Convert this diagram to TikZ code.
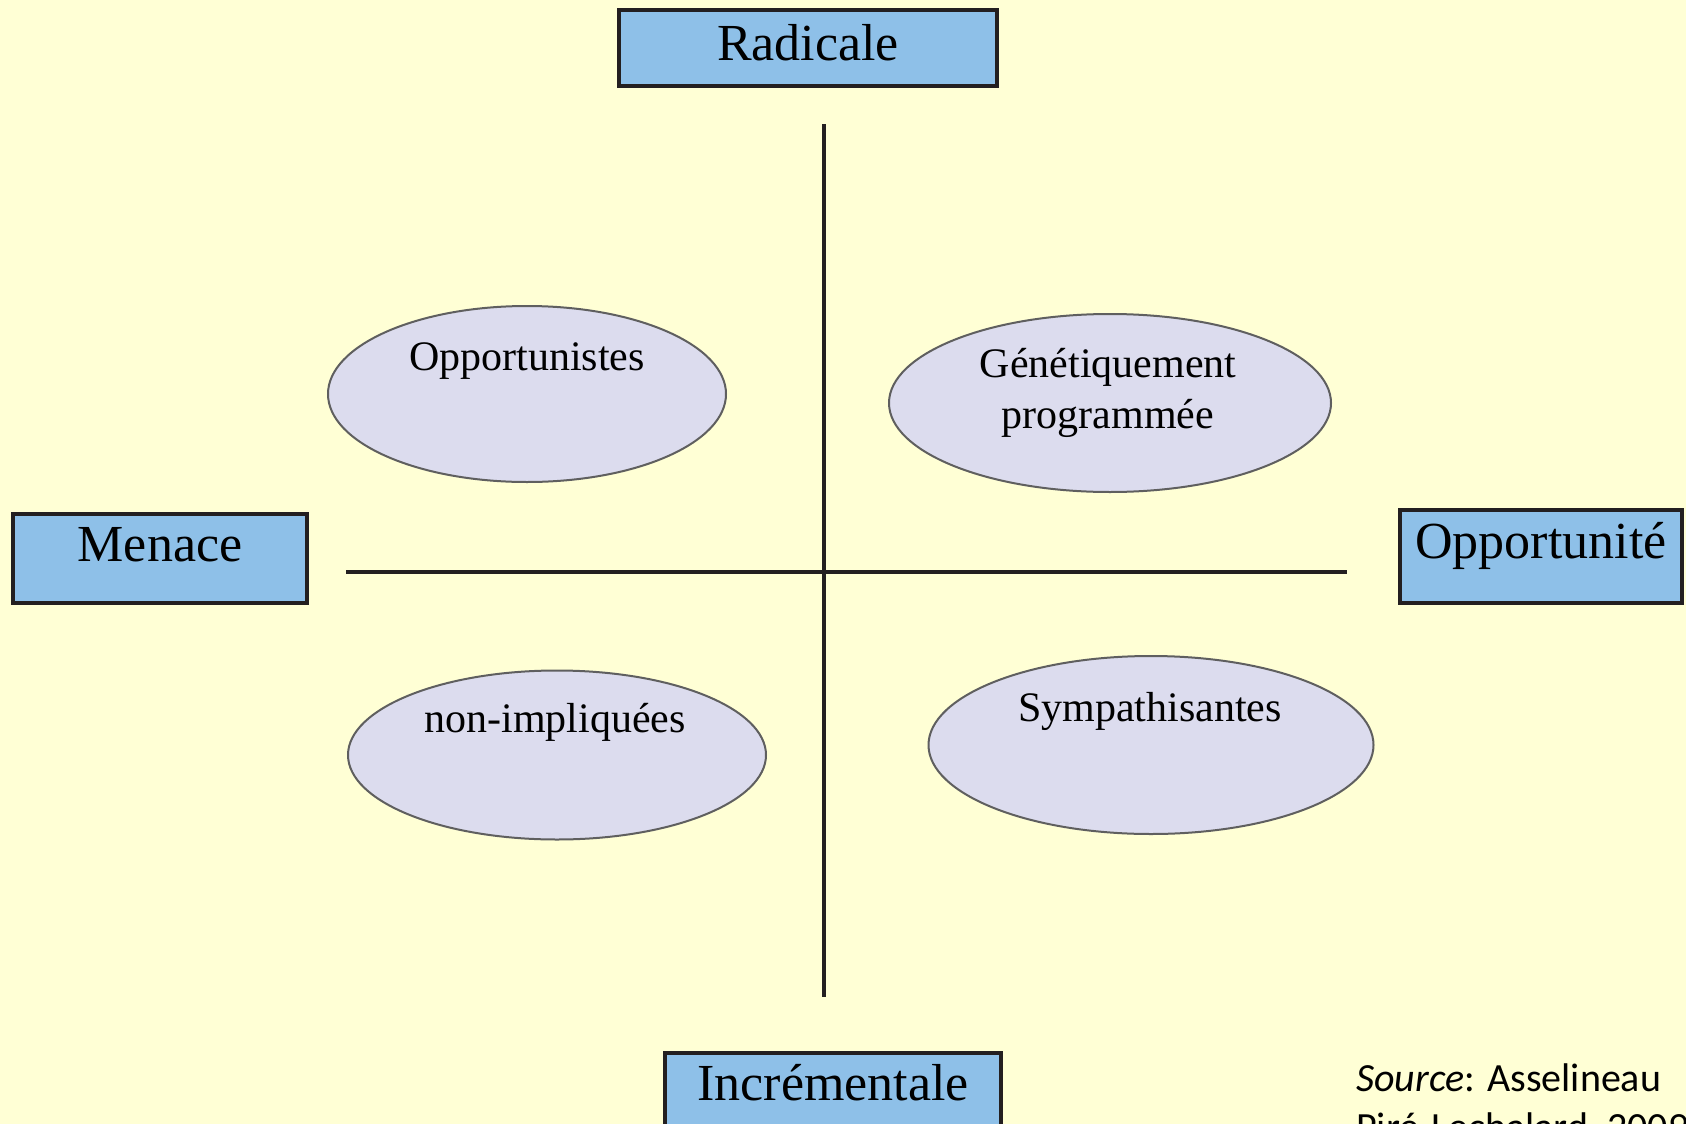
\documentclass[tikz,border=0pt]{standalone}
\usepackage{fontspec}
\setmainfont{Liberation Serif}
\newfontfamily\srcfont{Carlito}
\usepackage{xcolor}
\usepackage{tikz}
\usetikzlibrary{shapes.geometric}
\definecolor{fond}{HTML}{FFFFD5}
\definecolor{boite}{HTML}{8EC0E8}
\definecolor{trait}{HTML}{231F20}
\definecolor{mauve}{HTML}{DCDCEE}
\definecolor{bord}{HTML}{5F5F5F}

\begin{document}
\begin{tikzpicture}[x=1pt, y=-1pt,
	axe/.style={draw=trait, line width=4pt, fill=boite, inner sep=0pt, font=\fontsize{52}{60}\selectfont, anchor=base},
	groupe/.style={ellipse, draw=bord, line width=2pt, fill=mauve, inner sep=0pt},
	etiq/.style={font=\fontsize{42}{51}\selectfont, inner sep=0pt, anchor=base, align=center}]
	\useasboundingbox (0,0) rectangle (1686,1124);
	\fill[fond] (0,0) rectangle (1686,1124);
	\clip (0,0) rectangle (1686,1124);

	\coordinate (haut) at (824,124);
	\coordinate (bas) at (824,997);
	\coordinate (gauche) at (346,572);
	\coordinate (droite) at (1347,572);
	\draw[trait, line width=4pt] (haut) -- (bas);
	\draw[trait, line width=3.5pt] (gauche) -- (droite);

	\node[axe, minimum width=378pt, text height=50pt, text depth=26pt] (radicale) at (808,60) {Radicale};
	\node[axe, minimum width=294pt, text height=47pt, text depth=42pt] (menace) at (160,561) {Menace};
	\node[axe, minimum width=282pt, text height=48pt, text depth=45pt] (opportunite) at (1541,558) {Opportunité};
	\node[axe, minimum width=336pt, text height=47pt, text depth=40pt] (incrementale) at (833,1100) {Incrémentale};

	\node[groupe, minimum width=398pt, minimum height=176pt] (opportunistes) at (527,394) {};
	\node[etiq] (opportunistes-t) at (527,370) {Opportunistes};
	\node[groupe, minimum width=442pt, minimum height=178pt] (genetique) at (1110,403) {};
	\node[etiq] (genetique-t) at (1108,428) {Génétiquement\\programmée};
	\node[groupe, minimum width=418pt, minimum height=169pt] (nonimpl) at (557,755) {};
	\node[etiq] (nonimpl-t) at (555,732) {non-impliquées};
	\node[groupe, minimum width=445pt, minimum height=178pt] (sympa) at (1151,745) {};
	\node[etiq] (sympa-t) at (1150,721) {Sympathisantes};

	\node[font=\srcfont\fontsize{40}{49}\selectfont, inner sep=0pt, anchor=base west, align=left] (source) at (1356,1140) {\textit{Source}: Asselineau\\Piré-Lechalard, 2009};
\end{tikzpicture}
\end{document}
